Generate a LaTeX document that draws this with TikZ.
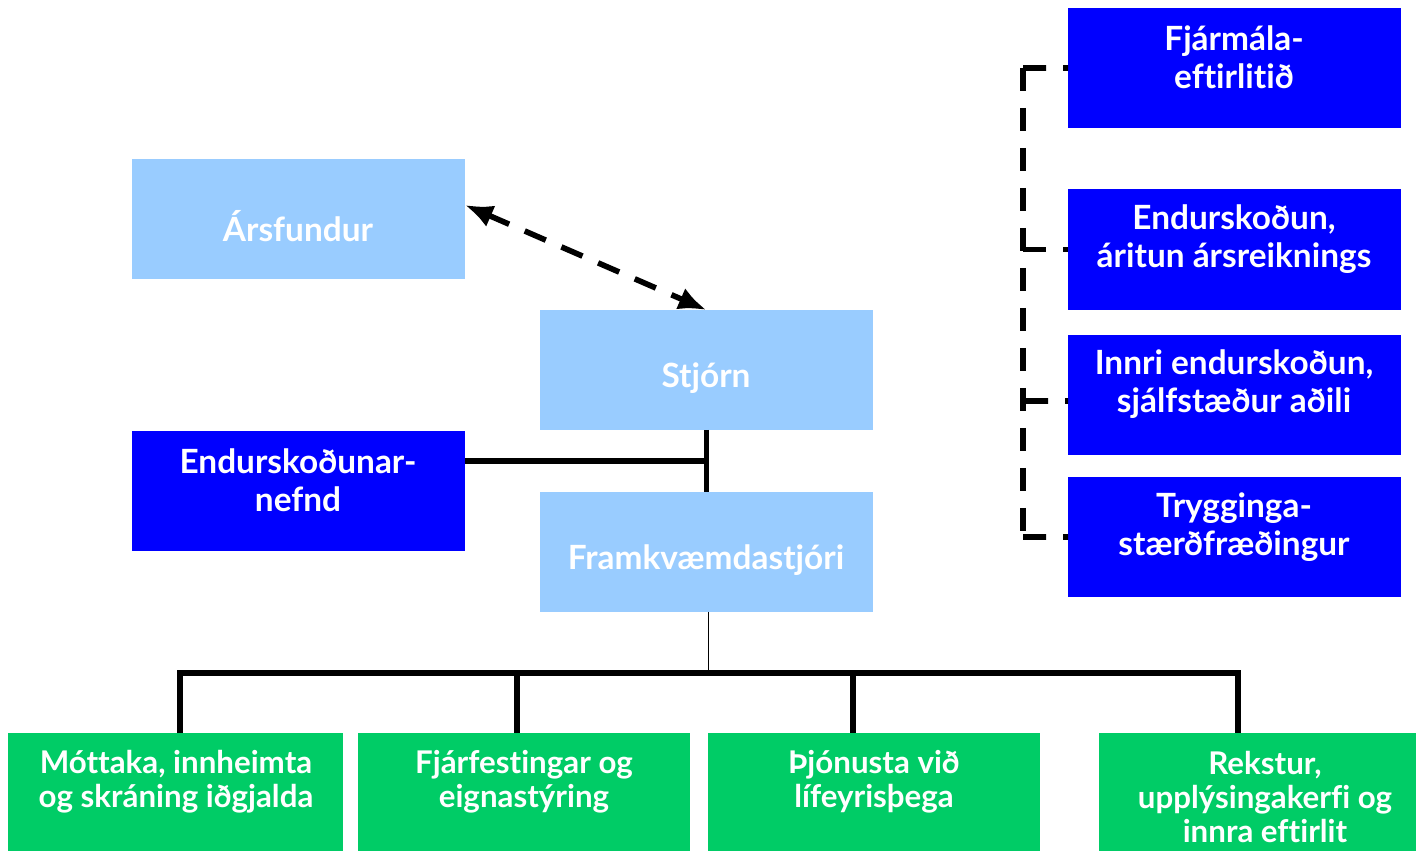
\documentclass[tikz,border=0pt]{standalone}
\usepackage{fontspec}
\setmainfont{Lato}[Ligatures=NoCommon]
\usetikzlibrary{arrows.meta,calc}
\definecolor{lb}{HTML}{99CCFF}
\definecolor{db}{HTML}{0000FF}
\definecolor{gr}{HTML}{00CC66}
\begin{document}
\begin{tikzpicture}[x=0.02cm,y=-0.02cm,
 box/.style={anchor=north west, minimum width=6.66cm, minimum height=2.4cm, inner sep=0pt, outer sep=0pt},
 gbox/.style={anchor=north west, minimum width=6.7cm, minimum height=2.36cm, inner sep=0pt, outer sep=0pt, fill=gr},
 txt/.style={text=white, font=\bfseries\fontsize{19}{21.5}\selectfont, align=center, inner sep=0pt},
 gtxt/.style={text=white, font=\bfseries\fontsize{17.8}{19.3}\selectfont, align=center, inner sep=0pt},
 thk/.style={line width=3.2pt},
 dsh/.style={line width=3.2pt, dash pattern=on 0.46cm off 0.34cm}]
\useasboundingbox (0,0) rectangle (1416,851);
% boxes
\node[box, fill=lb] (ars) at (132,159) {};
\node[box, fill=lb] (stj) at (540,310) {};
\node[box, fill=db] (end) at (132,431) {};
\node[box, fill=lb] (fra) at (540,492) {};
\node[box, fill=db] (fin) at (1068,8) {};
\node[box, fill=db, minimum height=2.42cm] (eds) at (1068,189) {};
\node[box, fill=db] (inn) at (1068,335) {};
\node[box, fill=db] (trg) at (1068,477) {};
\node[gbox] (m1) at (8,733) {};
\node[gbox, minimum width=6.64cm] (m2) at (358,733) {};
\node[gbox, minimum width=6.64cm] (m3) at (708,733) {};
\node[gbox, minimum width=6.34cm] (m4) at (1099,733) {};
% texts
\node[txt] (tars) at (298,226) {Ársfundur};
\node[txt] (tstj) at (706,378) {Stjórn};
\node[txt] (tfra) at (706,560) {Framkvæmdastjóri};
\node[txt] (tend) at (298,480) {Endurskoðunar-\\nefnd};
\node[txt] (tfin) at (1234,57) {Fjármála-\\eftirlitið};
\node[txt] (teds) at (1234,239) {Endurskoðun,\\áritun ársreiknings};
\node[txt] (tinn) at (1234,384) {Innri endurskoðun,\\sjálfstæður aðili};
\node[txt] (ttrg) at (1234,527) {Trygginga-\\stærðfræðingur};
\node[gtxt] (tm1) at (176,782) {Móttaka, innheimta\\og skráning iðgjalda};
\node[gtxt] (tm2) at (524,782) {Fjárfestingar og\\eignastýring};
\node[gtxt] (tm3) at (874,782) {Þjónusta við\\lífeyrisþega};
\node[gtxt] (tm4) at (1265,797) {Rekstur,\\upplýsingakerfi og\\innra eftirlit};
% dashed double arrow
\coordinate (ae) at ($(ars.north east)+(0,46)$);
\draw[dsh, {Latex[length=0.56cm,width=0.46cm]}-{Latex[length=0.56cm,width=0.46cm]}]
  (ae) -- (stj.north);
% Stjorn - Framkvaemdastjori
\draw[thk] (stj.south) -- (fra.north);
\coordinate (ee) at ($(end.north east)+(0,30)$);
\draw[thk] (ee) -- (ee -| stj.south);
% bus
\coordinate (d1) at (180,673);
\coordinate (d2) at (517,673);
\coordinate (d3) at (853,673);
\coordinate (d4) at (1238,673);
\coordinate (fs) at ($(fra.south)+(2,0)$);
\draw[line width=0.8pt] (fs) -- (fs |- d1);
\draw[thk, line join=miter] (d1 |- m1.north) -- (d1) -- (d4) -- (d4 |- m4.north);
\draw[thk] (d2) -- (d2 |- m2.north);
\draw[thk] (d3) -- (d3 |- m3.north);
% right dashed bracket
\coordinate (bt) at (1023,68);
\coordinate (bb) at (1023,537);
\coordinate (bi) at (1025,401);
\coordinate (iw) at ($(inn.west)+(0,6)$);
\draw[dsh] (bt) -- (bb);
\draw[dsh] (bt) -- (fin.west);
\draw[dsh] (eds.west -| bt) -- (eds.west);
\draw[dsh] (bi) -- (iw);
\draw[dsh] (bb) -- (trg.west);
\end{tikzpicture}
\end{document}
